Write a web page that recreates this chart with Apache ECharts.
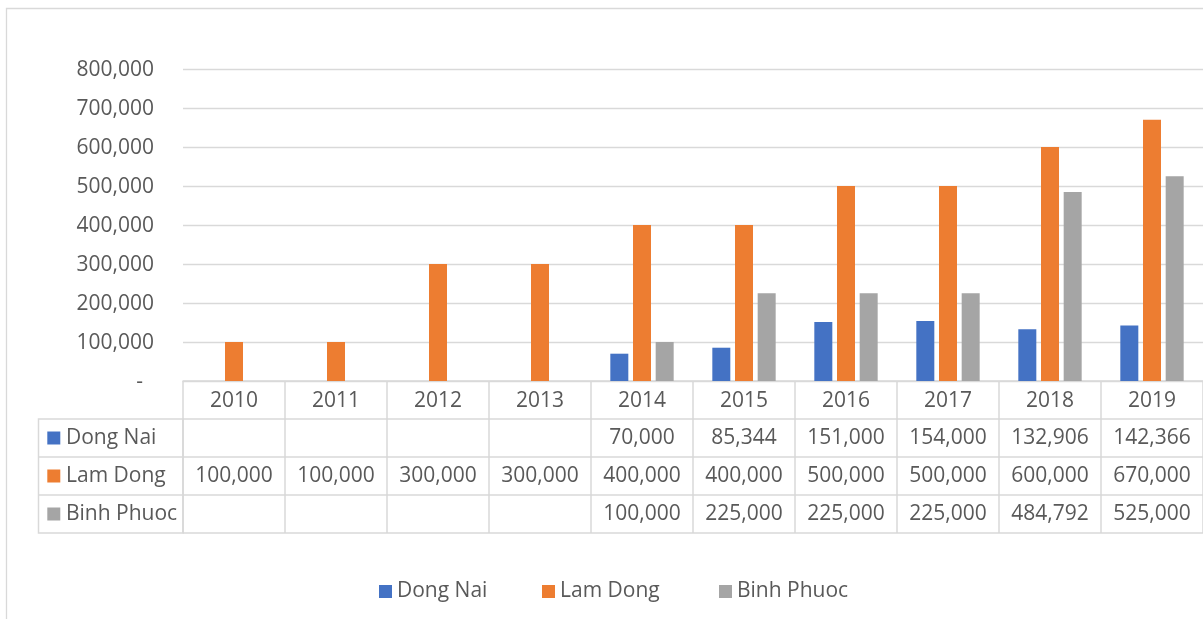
<!DOCTYPE html>
<html>
<head>
<meta charset="utf-8">
<script src="https://cdn.jsdelivr.net/npm/echarts@6/dist/echarts.min.js"></script>
<style>
  html, body { margin: 0; padding: 0; background: #fff; }
  #chart { width: 1203px; height: 619px; }
</style>
</head>
<body>
<div id="chart"></div>
<script>
// Years along the category axis
const categories = ['2010', '2011', '2012', '2013', '2014', '2015', '2016', '2017', '2018', '2019'];
// Series names and values
const seriesNames = ['Dong Nai', 'Lam Dong', 'Binh Phuoc'];
const dongNai   = [null, null, null, null, 70000, 85344, 151000, 154000, 132906, 142366];
const lamDong   = [100000, 100000, 300000, 300000, 400000, 400000, 500000, 500000, 600000, 670000];
const binhPhuoc = [null, null, null, null, 100000, 225000, 225000, 225000, 484792, 525000];
// Value axis range
const yMin = 0;
const yMax = 800000;
const yStep = 100000;

const seriesValues = [dongNai, lamDong, binhPhuoc];
const colors = ['#4472C4', '#ED7D31', '#A5A5A5'];

const FONT = '"Open Sans", "Noto Sans", sans-serif';
const TEXT = '#595959';
const LINE = '#d9d9d9';
const FS = 21;

// Geometry of the plot and the data table beneath it
const gridLeft = 183, gridTop = 69, gridWidth = 1023, gridHeight = 312;
const rowH = 38;
const axisY = gridTop + gridHeight;
const tableLeft = 38.5;

const fmt = v => (v === null || v === undefined) ? '' : v.toLocaleString('en-US');

// Table rows are extra category axes offset below the plot
const xAxes = [{
  type: 'category',
  data: categories,
  position: 'bottom',
  axisLine: { lineStyle: { color: LINE, width: 1.5 } },
  axisTick: { show: true, interval: 0, length: rowH, lineStyle: { color: LINE, width: 1.5 } },
  axisLabel: { interval: 0, margin: rowH / 2 + 1.5, verticalAlign: 'middle', color: TEXT, fontFamily: FONT, fontSize: FS }
}];
seriesValues.forEach((vals, k) => {
  xAxes.push({
    type: 'category',
    data: categories,
    position: 'bottom',
    offset: rowH * (k + 1),
    axisLine: { show: true, lineStyle: { color: LINE, width: 1.5 } },
    axisTick: { show: true, interval: 0, length: rowH, lineStyle: { color: LINE, width: 1.5 } },
    axisLabel: {
      interval: 0, margin: rowH / 2 + 0.5, verticalAlign: 'middle',
      color: TEXT, fontFamily: FONT, fontSize: FS,
      formatter: (val, idx) => fmt(vals[idx])
    },
    splitLine: { show: false }
  });
});
xAxes.push({
  type: 'category',
  data: categories,
  position: 'bottom',
  offset: rowH * (seriesValues.length + 1),
  axisLine: { show: true, lineStyle: { color: LINE, width: 1.5 } },
  axisTick: { show: false },
  axisLabel: { show: false }
});

// Left column of the table: row headers with colour keys
const graphic = [];
const nRows = seriesNames.length;
graphic.push({
  type: 'rect',
  shape: { x: tableLeft, y: axisY + rowH, width: gridLeft - tableLeft, height: rowH * nRows },
  style: { fill: 'none', stroke: LINE, lineWidth: 1.5 },
  silent: true
});
for (let k = 1; k < nRows; k++) {
  graphic.push({
    type: 'line',
    shape: { x1: tableLeft, y1: axisY + rowH * (k + 1), x2: gridLeft, y2: axisY + rowH * (k + 1) },
    style: { stroke: LINE, lineWidth: 1.5 },
    silent: true
  });
}
seriesNames.forEach((name, k) => {
  const cy = axisY + rowH * (k + 1) + rowH / 2;
  graphic.push({
    type: 'rect',
    shape: { x: 47.3, y: cy - 6.5, width: 13, height: 13 },
    style: { fill: colors[k] },
    silent: true
  });
  graphic.push({
    type: 'text',
    x: 66,
    y: cy + 0.5,
    style: { text: name, fill: TEXT, font: FS + 'px ' + FONT, textVerticalAlign: 'middle', textAlign: 'left' },
    silent: true
  });
});
// Outer chart frame
graphic.push({
  type: 'rect',
  shape: { x: 6.5, y: 8.5, width: 1300, height: 700 },
  style: { fill: 'none', stroke: LINE, lineWidth: 1.3 },
  silent: true,
  z: -10
});

const legendLefts = [379, 542, 719];
const legends = seriesNames.map((name, k) => ({
  data: [name],
  left: legendLefts[k],
  top: 581,
  padding: 0,
  itemWidth: 13,
  itemHeight: 13,
  icon: 'rect',
  selectedMode: false,
  textStyle: { color: TEXT, fontFamily: FONT, fontSize: FS }
}));

const chart = echarts.init(document.getElementById('chart'), null, { renderer: 'canvas' });
chart.setOption({
  animation: false,
  color: colors,
  grid: { left: gridLeft, top: gridTop, width: gridWidth, height: gridHeight, containLabel: false },
  legend: legends,
  xAxis: xAxes,
  yAxis: {
    type: 'value',
    min: yMin,
    max: yMax,
    interval: yStep,
    axisLine: { show: false },
    axisTick: { show: false },
    splitLine: { lineStyle: { color: LINE, width: 1.3 } },
    axisLabel: {
      margin: 29,
      color: TEXT,
      fontFamily: FONT,
      fontSize: FS,
      verticalAlign: 'middle',
      padding: [3, 0, 0, 0],
      formatter: v => v === 0 ? '{z|-}' : v.toLocaleString('en-US'),
      rich: { z: { color: TEXT, fontFamily: FONT, fontSize: FS, padding: [0, 11, 0, 0] } }
    }
  },
  series: seriesNames.map((name, k) => ({
    name: name,
    type: 'bar',
    xAxisIndex: 0,
    data: seriesValues[k],
    barWidth: 18,
    barGap: '26%',
    itemStyle: { color: colors[k] }
  })),
  graphic: graphic
});
</script>
</body>
</html>
